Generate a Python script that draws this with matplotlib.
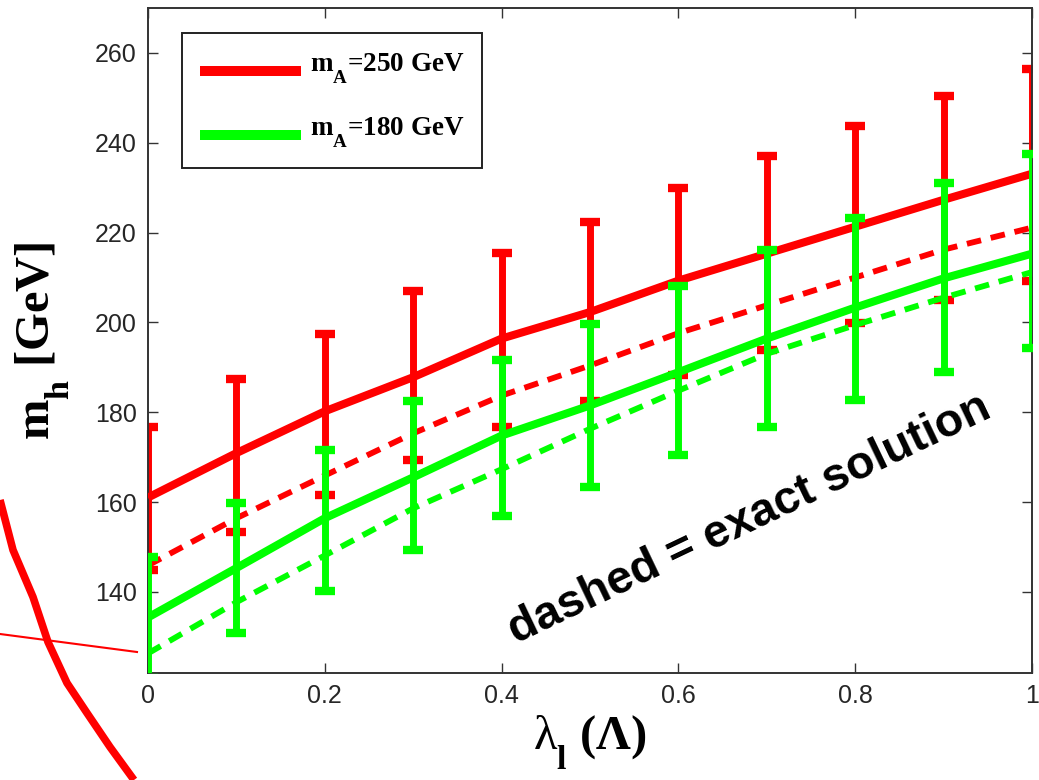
import matplotlib
matplotlib.use("Agg")
import matplotlib.pyplot as plt
from matplotlib.lines import Line2D
from matplotlib.legend_handler import HandlerLine2D
import numpy as np

plt.rcParams['mathtext.fontset'] = 'custom'
plt.rcParams['mathtext.rm'] = 'Liberation Serif'
plt.rcParams['mathtext.bf'] = 'Liberation Serif:bold'
plt.rcParams['mathtext.it'] = 'Liberation Serif:italic'
try:  # MATLAB-like deeper subscripts
    import matplotlib._mathtext as _mt
    _mt.FontConstantsBase.sub1 = 0.95
except Exception:
    pass

# ---------------- data ----------------
lam = [0.0, 0.1, 0.2, 0.3, 0.4, 0.5, 0.6, 0.7, 0.8, 0.9, 1.0]

# m_A = 250 GeV
red_fit = [161.0, 170.9, 180.2, 187.8, 196.4, 202.3, 209.3, 215.3, 221.3, 227.3, 233.1]
red_low = [144.8, 153.3, 161.6, 169.4, 176.7, 182.5, 188.2, 193.9, 199.8, 204.9, 209.3]
red_high = [176.7, 187.5, 197.5, 206.9, 215.5, 222.3, 229.9, 237.1, 243.8, 250.3, 256.4]
red_exact = [145.9, 156.4, 165.9, 175.3, 183.7, 190.4, 197.6, 203.8, 210.0, 216.2, 221.1]

# m_A = 180 GeV
green_fit = [134.3, 145.3, 156.4, 165.5, 174.8, 181.5, 188.9, 196.4, 203.3, 209.8, 215.3]
green_low = [120.9, 130.8, 140.2, 149.3, 157.0, 163.3, 170.4, 176.8, 182.8, 188.9, 194.2]
green_high = [147.7, 159.7, 171.5, 182.5, 191.7, 199.7, 208.2, 216.2, 223.3, 231.1, 237.4]
green_exact = [126.3, 137.7, 148.1, 158.6, 167.3, 176.3, 184.8, 193.0, 199.4, 205.5, 211.2]

labels = [r'$\mathbf{m}_{\mathbf{A}}$=250 GeV', r'$\mathbf{m}_{\mathbf{A}}$=180 GeV']
xticks = [0, 0.2, 0.4, 0.6, 0.8, 1.0]
xticklabels = ['0', '0.2', '0.4', '0.6', '0.8', '1']
yticks = [140, 160, 180, 200, 220, 240, 260]

# hand-drawn annotation strokes (figure pixel coordinates, outside the axes)
stroke_thick_x = [0, 13, 33, 48, 67, 87, 110, 134]
stroke_thick_y = [500, 550, 597, 642, 683, 713, 747, 780]
stroke_thin_x = [0, 137]
stroke_thin_y = [634, 652]

RED = '#ff0000'
GREEN = '#00ff00'

W, H = 1039, 780
fig = plt.figure(figsize=(W / 100, H / 100), dpi=100)
ax = fig.add_axes([148 / W, 1 - 672.7 / H, (1032 - 148) / W, (672.7 - 8) / H])

x = np.array(lam)

def draw(fit, low, high, exact, color, z):
    fit = np.array(fit)
    yerr = [fit - np.array(low), np.array(high) - fit]
    ax.errorbar(x, fit, yerr=yerr, fmt='none', ecolor=color, elinewidth=5.0,
                capsize=7.0, capthick=6.0, zorder=z)
    ax.plot(x, fit, color=color, lw=5.8, solid_capstyle='butt', zorder=z + 1)
    ax.plot(x, exact, color=color, lw=4.2, dashes=(2.5, 1.7),
            dash_capstyle='butt', zorder=z + 1)

draw(red_fit, red_low, red_high, red_exact, RED, 2)
draw(green_fit, green_low, green_high, green_exact, GREEN, 4)

ax.set_xlim(0, 1)
ax.set_ylim(122, 270)
ax.set_xticks(xticks)
ax.set_xticklabels(xticklabels)
ax.set_yticks(yticks)
ax.tick_params(direction='in', length=7, width=1.0, color='#333333',
               labelsize=18, labelcolor='#262626', pad=8,
               top=True, right=True)
for lab in ax.get_xticklabels() + ax.get_yticklabels():
    lab.set_family('Liberation Sans')
for sp in ax.spines.values():
    sp.set_linewidth(1.4)
    sp.set_color('#333333')

ax.set_xlabel(r'$\mathrm{λ}_{\mathbf{l}}$ (Λ)', fontsize=35, fontweight='bold',
              family='Liberation Serif', labelpad=4)
ax.set_ylabel(r'$\mathbf{m}_{\mathbf{h}}$ [GeV]', fontsize=35, fontweight='bold',
              family='Liberation Serif')
ax.yaxis.set_label_coords(-0.086, 0.5)


class ShiftedLine(HandlerLine2D):
    """Legend line drawn a little lower relative to its label."""
    def __init__(self, shift, **kw):
        super().__init__(**kw)
        self.shift = shift

    def create_artists(self, legend, orig_handle, xdescent, ydescent, width,
                       height, fontsize, trans):
        arts = super().create_artists(legend, orig_handle, xdescent, ydescent,
                                      width, height, fontsize, trans)
        for a in arts:
            a.set_ydata(np.asarray(a.get_ydata()) - self.shift * fontsize)
        return arts


handles = [Line2D([], [], color=RED, lw=7.2, solid_capstyle='butt'),
           Line2D([], [], color=GREEN, lw=7.2, solid_capstyle='butt')]
leg = ax.legend(handles, labels, loc='upper left',
                bbox_to_anchor=((182 - 148) / 884, (672.7 - 33) / 664.7),
                borderaxespad=0, frameon=True, fancybox=False,
                prop={'family': 'Liberation Serif', 'weight': 'bold', 'size': 19.5},
                handlelength=3.7, handletextpad=0.33, borderpad=0.68,
                labelspacing=1.1,
                handler_map={Line2D: ShiftedLine(0.33)})
leg.get_frame().set_edgecolor('#222222')
leg.get_frame().set_linewidth(1.4)
leg.get_frame().set_alpha(1)

ax.text(0.68, 156.2, 'dashed = exact solution', fontsize=33.5, fontweight='bold',
        family='Liberation Sans', rotation=25.5, rotation_mode='anchor',
        ha='center', va='center', color='black', zorder=10)

# annotation strokes in figure coordinates
fig.add_artist(Line2D(np.array(stroke_thick_x) / W, 1 - np.array(stroke_thick_y) / H,
                      color=RED, lw=5.5, transform=fig.transFigure,
                      solid_capstyle='butt', solid_joinstyle='round'))
fig.add_artist(Line2D(np.array(stroke_thin_x) / W, 1 - np.array(stroke_thin_y) / H,
                      color=RED, lw=1.5, transform=fig.transFigure))

fig.savefig('out.png', dpi=100)
